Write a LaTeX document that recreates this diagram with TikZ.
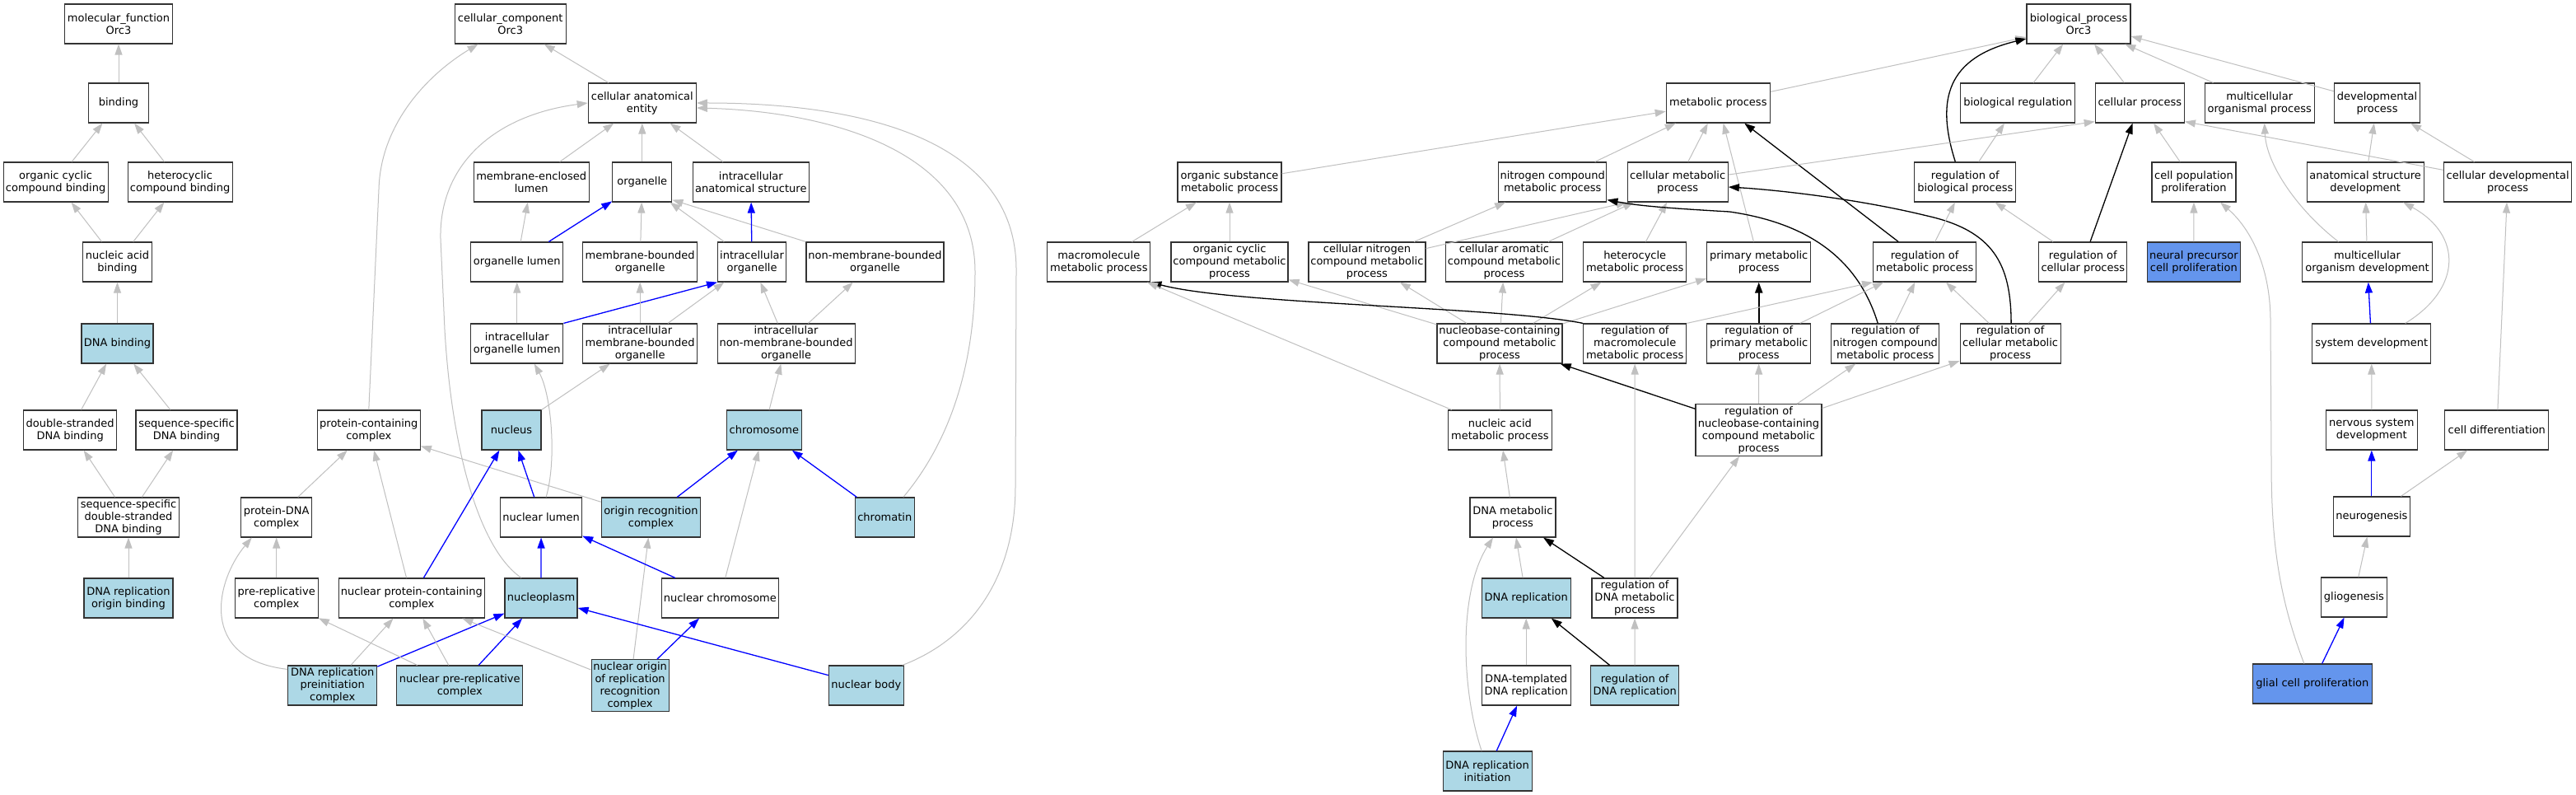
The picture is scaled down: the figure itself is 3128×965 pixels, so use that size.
\documentclass[tikz,border=0pt]{standalone}
\usepackage{fontspec}
\setmainfont{DejaVu Sans}
\usetikzlibrary{arrows.meta}
\definecolor{isagray}{RGB}{192,192,192}
\definecolor{annotblue}{RGB}{173,216,230}
\definecolor{hitblue}{RGB}{100,149,237}
\definecolor{framegray}{RGB}{51,51,51}
\tikzstyle{term} = [rectangle, draw=framegray, line width=1.2pt, fill=white,
    align=center, minimum height=48pt, inner xsep=2pt, inner ysep=2.5pt,
    font=\fontsize{13pt}{15pt}\selectfont]
\tikzstyle{annot} = [term, fill=annotblue]
\tikzstyle{hit} = [term, fill=hitblue]
\tikzstyle{isa} = [->, draw=isagray, line width=1pt]
\tikzstyle{partof} = [->, draw=blue, line width=1.3pt]
\tikzstyle{reg} = [->, draw=black, line width=1.3pt]

\begin{document}
\begin{tikzpicture}[x=1pt, y=-1pt, >={Triangle[length=13pt,width=9pt]}]

    \fill [white] (0,0) rectangle (3128,965);
    \useasboundingbox (0,0) rectangle (3128,965);

    % Nodes
    \node [term, minimum width=131pt] (mf) at (144,29) {molecular\_function\\Orc3};
    \node [term, minimum width=73pt] (binding) at (144,125) {binding};
    \node [term, minimum width=127pt] (occb) at (67.6,221) {organic cyclic\\compound binding};
    \node [term, minimum width=127pt] (hccb) at (218.6,221) {heterocyclic\\compound binding};
    \node [term, minimum width=84pt] (nab) at (142.5,318) {nucleic acid\\binding};
    \node [annot, minimum width=87pt] (dnab) at (142.5,417) {DNA binding};
    \node [term, minimum width=113pt] (dsdb) at (85.2,522) {double-stranded\\DNA binding};
    \node [term, minimum width=123pt] (ssdb) at (226.5,522) {sequence-specific\\DNA binding};
    \node [term, minimum width=123pt] (ssds) at (156,628) {sequence-specific\\double-stranded\\DNA binding};
    \node [annot, minimum width=108pt] (dnarob) at (156,726) {DNA replication\\origin binding};

    \node [term, minimum width=135pt] (cc) at (619.7,29) {cellular\_component\\Orc3};
    \node [term, minimum width=131pt] (cae) at (779.8,125) {cellular anatomical\\entity};
    \node [term, minimum width=140pt] (mel) at (645.2,221) {membrane-enclosed\\lumen};
    \node [term, minimum width=72pt] (organelle) at (779.8,221) {organelle};
    \node [term, minimum width=141pt] (ias) at (911.8,221) {intracellular\\anatomical structure};
    \node [term, minimum width=112pt] (ol) at (627.8,318) {organelle lumen};
    \node [term, minimum width=139pt] (mbo) at (777.2,318) {membrane-bounded\\organelle};
    \node [term, minimum width=83pt] (io) at (913.1,318) {intracellular\\organelle};
    \node [term, minimum width=167pt] (nmbo) at (1062.5,318) {non-membrane-bounded\\organelle};
    \node [term, minimum width=112pt] (iol) at (627.8,417) {intracellular\\organelle lumen};
    \node [term, minimum width=139pt] (imbo) at (777.2,417) {intracellular\\membrane-bounded\\organelle};
    \node [term, minimum width=167pt] (inmbo) at (954.6,417) {intracellular\\non-membrane-bounded\\organelle};
    \node [term, minimum width=125pt] (pc) at (447.8,522) {protein-containing\\complex};
    \node [annot, minimum width=72pt] (nucleus) at (621,522) {nucleus};
    \node [annot, minimum width=91pt] (chromosome) at (927.8,522) {chromosome};
    \node [term, minimum width=86pt] (pdc) at (335.7,628) {protein-DNA\\complex};
    \node [term, minimum width=99pt] (nlumen) at (657.1,628) {nuclear lumen};
    \node [annot, minimum width=120pt] (orc) at (790.4,628) {origin recognition\\complex};
    \node [annot, minimum width=72pt] (chromatin) at (1074.3,628) {chromatin};
    \node [term, minimum width=101pt] (prc) at (335.7,726) {pre-replicative\\complex};
    \node [term, minimum width=177pt] (npcc) at (499.8,726) {nuclear protein-containing\\complex};
    \node [annot, minimum width=88pt] (nucleoplasm) at (657,726) {nucleoplasm};
    \node [term, minimum width=142pt] (nchr) at (874.3,726) {nuclear chromosome};
    \node [annot, minimum width=108pt] (dnapic) at (403.7,832) {DNA replication\\preinitiation\\complex};
    \node [annot, minimum width=153pt] (nprc) at (558.3,832) {nuclear pre-replicative\\complex};
    \node [annot, minimum width=94pt] (norc) at (765.1,832) {nuclear origin\\of replication\\recognition\\complex};
    \node [annot, minimum width=91pt] (nbody) at (1051.9,832) {nuclear body};

    \node [term, minimum width=126pt] (bp) at (2524,29) {biological\_process\\Orc3};
    \node [term, minimum width=126pt] (mp) at (2086.3,125) {metabolic process};
    \node [term, minimum width=139pt] (br) at (2450.3,125) {biological regulation};
    \node [term, minimum width=108pt] (cp) at (2598.3,125) {cellular process};
    \node [term, minimum width=133pt] (mop) at (2743.7,125) {multicellular\\organismal process};
    \node [term, minimum width=104pt] (dp) at (2886.5,125) {developmental\\process};
    \node [term, minimum width=126pt] (osmp) at (1493,221) {organic substance\\metabolic process};
    \node [term, minimum width=131pt] (ncmp) at (1885.2,221) {nitrogen compound\\metabolic process};
    \node [term, minimum width=122pt] (cmp) at (2037.2,221) {cellular metabolic\\process};
    \node [term, minimum width=123pt] (rbp) at (2386.3,221) {regulation of\\biological process};
    \node [term, minimum width=102pt] (cpp) at (2664,221) {cell population\\proliferation};
    \node [term, minimum width=142pt] (asd) at (2872.1,221) {anatomical structure\\development};
    \node [term, minimum width=155pt] (cdp) at (3045.1,221) {cellular developmental\\process};
    \node [term, minimum width=125pt] (mmp) at (1334.3,318) {macromolecule\\metabolic process};
    \node [term, minimum width=142pt] (occmp) at (1493,318) {organic cyclic\\compound metabolic\\process};
    \node [term, minimum width=142pt] (cncmp) at (1659.9,318) {cellular nitrogen\\compound metabolic\\process};
    \node [term, minimum width=142pt] (cacmp) at (1826.5,318) {cellular aromatic\\compound metabolic\\process};
    \node [term, minimum width=125pt] (hmp) at (1985.2,318) {heterocycle\\metabolic process};
    \node [term, minimum width=126pt] (pmp) at (2135.7,318) {primary metabolic\\process};
    \node [term, minimum width=125pt] (rmp) at (2337.1,318) {regulation of\\metabolic process};
    \node [term, minimum width=107pt] (rcp) at (2529.3,318) {regulation of\\cellular process};
    \node [hit, minimum width=113pt] (npcp) at (2663.8,318) {neural precursor\\cell proliferation};
    \node [term, minimum width=158pt] (mod) at (2874.5,318) {multicellular\\organism development};
    \node [term, minimum width=152pt] (nbccmp) at (1821,417) {nucleobase-containing\\compound metabolic\\process};
    \node [term, minimum width=125pt] (rmmp) at (1985.2,417) {regulation of\\macromolecule\\metabolic process};
    \node [term, minimum width=126pt] (rpmp) at (2135.7,417) {regulation of\\primary metabolic\\process};
    \node [term, minimum width=131pt] (rncmp) at (2289.2,417) {regulation of\\nitrogen compound\\metabolic process};
    \node [term, minimum width=122pt] (rcmp) at (2441.1,417) {regulation of\\cellular metabolic\\process};
    \node [term, minimum width=144pt] (sd) at (2879.7,417) {system development};
    \node [term, minimum width=126pt] (namp) at (1821.4,522) {nucleic acid\\metabolic process};
    \node [term, minimum width=153pt] (rnbc) at (2135.5,522) {regulation of\\nucleobase-containing\\compound metabolic\\process};
    \node [term, minimum width=111pt] (nsd) at (2879.8,522) {nervous system\\development};
    \node [term, minimum width=126pt] (cd) at (3031.8,522) {cell differentiation};
    \node [term, minimum width=104pt] (dnamp) at (1836.9,628) {DNA metabolic\\process};
    \node [term, minimum width=93pt] (neuro) at (2879.8,627) {neurogenesis};
    \node [annot, minimum width=108pt] (dnarep) at (1853.2,726) {DNA replication};
    \node [term, minimum width=104pt] (rdnamp) at (1985,726) {regulation of\\DNA metabolic\\process};
    \node [term, minimum width=80pt] (glio) at (2858.4,725) {gliogenesis};
    \node [term, minimum width=108pt] (dnatr) at (1853.2,832) {DNA-templated\\DNA replication};
    \node [annot, minimum width=107pt] (rdnarep) at (1985.2,832) {regulation of\\DNA replication};
    \node [hit, minimum width=145pt] (gcp) at (2807.8,830) {glial cell proliferation};
    \node [annot, minimum width=108pt] (dnari) at (1806.1,936) {DNA replication\\initiation};

    % Connections
    \draw [isa] (binding) -- (mf);
    \draw [isa] (occb) -- (binding);
    \draw [isa] (hccb) -- (binding);
    \draw [isa] (nab) -- (occb);
    \draw [isa] (nab) -- (hccb);
    \draw [isa] (dnab) -- (nab);
    \draw [isa] (dsdb) -- (dnab);
    \draw [isa] (ssdb) -- (dnab);
    \draw [isa] (ssds) -- (dsdb);
    \draw [isa] (ssds) -- (ssdb);
    \draw [isa] (dnarob) -- (ssds);

    \draw [isa] (cae) -- (cc);
    \draw [isa] (pc.north) -- (460,230) .. controls (462,150) and (520,90) .. ([xshift=29pt]cc.south west);
    \draw [isa] (mel) -- (cae);
    \draw [isa] (organelle) -- (cae);
    \draw [isa] (ias) -- (cae);
    \draw [isa] ([xshift=-24pt]nucleoplasm.north) .. controls (580,665) and (548,540) .. (540,400) -- (535,290) .. controls (533,200) and (600,140) .. (cae.west);
    \draw [isa] ([xshift=-14pt]chromatin.north east) .. controls (1150,540) and (1184,450) .. (1184,330) .. controls (1184,180) and (1000,135) .. ([yshift=-6pt]cae.east);
    \draw [isa] ([xshift=44pt]nbody.north) .. controls (1180,775) and (1233,700) .. (1233,590) -- (1234,330) .. controls (1236,150) and (1000,125) .. (cae.east);
    \draw [isa] (ol) -- (mel);
    \draw [partof] (ol) -- (organelle);
    \draw [isa] (mbo) -- (organelle);
    \draw [isa] (io) -- (organelle);
    \draw [isa] (nmbo.north west) -- ([yshift=3pt]organelle.south east);
    \draw [partof] (io) -- (ias);
    \draw [isa] (iol) -- (ol);
    \draw [partof] (iol.north east) -- (io.south west);
    \draw [isa] (imbo) -- (mbo);
    \draw [isa] (imbo) -- (io);
    \draw [isa] (inmbo) -- (io);
    \draw [isa] (inmbo) -- (nmbo);
    \draw [isa] (nucleus) -- (imbo);
    \draw [isa] ([xshift=6pt]nlumen.north) .. controls (676,560) and (670,480) .. ([xshift=21pt]iol.south);
    \draw [isa] (chromosome) -- (inmbo);
    \draw [isa] (npcc) -- (pc);
    \draw [isa] (pdc) -- (pc);
    \draw [isa] (orc) -- (pc);
    \draw [partof] (npcc) -- (nucleus);
    \draw [isa] (prc) -- (pdc);
    \draw [isa] ([yshift=-5pt]dnapic.north west) .. controls (240,800) and (262,705) .. ([xshift=-30pt]pdc.south);
    \draw [isa] (dnapic) -- (npcc);
    \draw [partof] (dnapic) -- (nucleoplasm);
    \draw [isa] (nprc) -- (prc);
    \draw [isa] (nprc) -- (npcc);
    \draw [partof] (nprc) -- (nucleoplasm);
    \draw [isa] (norc) -- (npcc);
    \draw [isa] (norc) -- (orc);
    \draw [partof] (norc) -- (nchr);
    \draw [partof] (nbody) -- (nucleoplasm);
    \draw [partof] (nchr) -- (nlumen);
    \draw [isa] (nchr) -- (chromosome);
    \draw [partof] (nucleoplasm) -- (nlumen);
    \draw [partof] (nlumen) -- (nucleus);
    \draw [partof] (orc) -- (chromosome);
    \draw [partof] (chromatin) -- (chromosome);

    \draw [isa] (mp) -- ([yshift=-16pt]bp.west);
    \draw [isa] (br) -- (bp);
    \draw [isa] (cp) -- (bp);
    \draw [isa] (mop) -- (bp);
    \draw [isa] (dp) -- ([yshift=-15pt]bp.east);
    \draw [reg] ([xshift=-12pt]rbp.north) .. controls (2350,120) and (2365,70) .. ([yshift=-18pt]bp.west);
    \draw [isa] (rbp) -- (br);
    \draw [isa] (osmp) -- (mp);
    \draw [isa] (ncmp) -- (mp);
    \draw [isa] (cmp) -- (mp);
    \draw [isa] (pmp) -- (mp);
    \draw [reg] (rmp) -- (mp);
    \draw [isa] (cmp) -- ([yshift=2pt]cp.south west);
    \draw [isa] (cpp) -- (cp);
    \draw [reg] (rcp) -- (cp);
    \draw [isa] (cdp) -- ([yshift=2pt]cp.south east);
    \draw [isa] ([xshift=-35pt]mod.north) .. controls (2790,255) and (2752,200) .. ([xshift=6pt]mop.south);
    \draw [isa] (asd) -- (dp);
    \draw [isa] (cdp) -- (dp);
    \draw [isa] (npcp) -- (cpp);
    \draw [isa] ([xshift=-10pt]gcp.north) .. controls (2765,720) and (2758,650) .. (2758,560) -- (2757,390) .. controls (2757,320) and (2730,275) .. ([xshift=32pt]cpp.south);
    \draw [isa] (mod) -- (asd);
    \draw [partof] (sd) -- (mod);
    \draw [isa] ([xshift=41pt]sd.north) .. controls (2990,350) and (2990,285) .. ([xshift=46pt]asd.south);
    \draw [isa] (nsd) -- (sd);
    \draw [isa] (cd) -- (cdp);
    \draw [partof] (neuro) -- (nsd);
    \draw [isa] (neuro) -- (cd);
    \draw [isa] (glio) -- (neuro);
    \draw [partof] (gcp) -- (glio);

    \draw [isa] (mmp) -- (osmp);
    \draw [isa] (occmp) -- (osmp);
    \draw [isa] (cncmp) -- (ncmp);
    \draw [isa] (cncmp) -- (cmp.south west);
    \draw [isa] (cacmp) -- (cmp);
    \draw [isa] (hmp) -- (cmp);
    \draw [isa] (nbccmp) -- (occmp);
    \draw [isa] (nbccmp) -- (cncmp);
    \draw [isa] (nbccmp) -- (cacmp);
    \draw [isa] (nbccmp) -- (hmp);
    \draw [isa] (nbccmp) -- (pmp);
    \draw [reg] (rmmp.north west) .. controls (1820,372) and (1500,370) .. (mmp.south east);
    \draw [reg, line width=2.2pt] (rpmp) -- (pmp);
    \draw [reg] ([xshift=-9pt]rncmp.north) .. controls (2255,310) and (2190,270) .. (2100,257) .. controls (2030,253) and (1990,250) .. ([yshift=3pt]ncmp.south east);
    \draw [reg] ([xshift=1pt]rcmp.north) .. controls (2442,320) and (2420,280) .. (2340,262) .. controls (2250,240) and (2150,230) .. ([yshift=-6pt]cmp.east);
    \draw [isa] (rmp) -- (rbp);
    \draw [isa] (rcp) -- (rbp);
    \draw [isa] (rmmp.north east) -- (rmp.south west);
    \draw [isa] (rpmp) -- (rmp);
    \draw [isa] (rncmp) -- (rmp);
    \draw [isa] (rcmp) -- (rmp);
    \draw [isa] (rcmp) -- (rcp);
    \draw [reg] (rnbc) -- (nbccmp);
    \draw [isa] (rnbc) -- (rpmp);
    \draw [isa] (rnbc) -- (rncmp);
    \draw [isa] (rnbc) -- (rcmp);
    \draw [isa] (namp) -- (nbccmp);
    \draw [isa] (namp) -- (mmp);
    \draw [isa] (dnamp) -- (namp);
    \draw [isa] (rdnamp) -- (rmmp);
    \draw [isa] (rdnamp) -- (rnbc);
    \draw [reg] (rdnamp) -- (dnamp);
    \draw [isa] (dnarep) -- (dnamp);
    \draw [isa] (dnatr) -- (dnarep);
    \draw [isa] (rdnarep) -- (rdnamp);
    \draw [reg] (rdnarep) -- (dnarep);
    \draw [partof] (dnari) -- (dnatr);
    \draw [isa] ([xshift=-7pt]dnari.north) .. controls (1775,840) and (1770,720) .. ([xshift=-24pt]dnamp.south);

\end{tikzpicture}
\end{document}
